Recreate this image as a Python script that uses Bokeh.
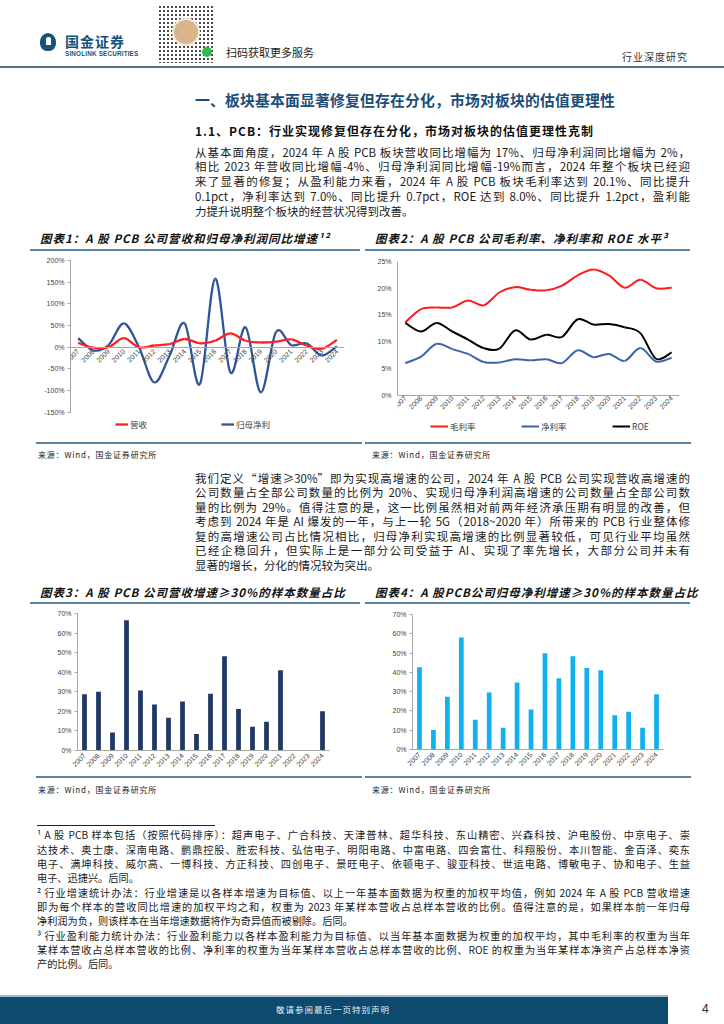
import math
from bokeh.plotting import figure
from bokeh.models import (Div, Legend, LegendItem, FixedTicker, PrintfTickFormatter,
                          Range1d, FactorRange, Spacer, ColumnDataSource)
from bokeh.layouts import column, row
from bokeh.embed import file_html
from bokeh.resources import INLINE

# ---------------- data ----------------
years = [str(y) for y in range(2007, 2025)]
rev_growth = [10, -1, 0, 21, 0, 4, 7, 19, 9, 15, 32, 15, 11, 13, 18, 4, -4, 17]
np_growth = [21, -7, 5, 55, 0, -81, -20, 55, -85, 158, -58, 46, -104, 35, 5, 9, -19, 2]
gross_margin = [13.6, 16.1, 16.4, 16.4, 17.7, 16.8, 19.2, 20.2, 19.7, 19.6, 20.5, 22.4, 23.5, 22.4, 20.1, 21.6, 20.0, 20.1]
net_margin = [6.0, 7.2, 9.6, 8.6, 7.7, 6.2, 6.1, 6.7, 6.5, 6.7, 6.0, 8.4, 7.1, 7.7, 6.4, 8.8, 6.3, 7.0]
roe = [13.5, 11.9, 13.5, 11.9, 10.4, 8.8, 8.7, 12.1, 10.4, 11.3, 10.9, 14.2, 13.2, 13.3, 12.7, 11.6, 6.8, 8.0]
rev_high_share = [28.7, 30.0, 9.2, 66.5, 30.7, 23.5, 16.7, 25.1, 8.4, 29.0, 48.1, 21.2, 12.1, 14.7, 41.0, 0, 0, 20.0]
np_high_share = [42.6, 10.1, 27.4, 58.1, 15.4, 29.5, 11.3, 34.8, 20.8, 49.9, 36.9, 48.4, 42.3, 41.1, 17.7, 19.6, 11.3, 28.6]

ticks_growth = [-150, -100, -50, 0, 50, 100, 150, 200]
ticks_margin = [0, 5, 10, 15, 20, 25]
ticks_share = [0, 10, 20, 30, 40, 50, 60, 70]

section_title = "一、板块基本面显著修复但存在分化，市场对板块的估值更理性"
sub_title = "1.1、PCB：行业实现修复但存在分化，市场对板块的估值更理性克制"
para1 = [
    "从基本面角度，2024 年 A 股 PCB 板块营收同比增幅为 17%、归母净利润同比增幅为 2%，",
    "相比 2023 年营收同比增幅-4%、归母净利润同比增幅-19%而言，2024 年整个板块已经迎",
    "来了显著的修复；从盈利能力来看，2024 年 A 股 PCB 板块毛利率达到 20.1%、同比提升",
    "0.1pct，净利率达到 7.0%、同比提升 0.7pct，ROE 达到 8.0%、同比提升 1.2pct，盈利能",
    "力提升说明整个板块的经营状况得到改善。",
]
para2 = [
    "我们定义“增速≥30%”即为实现高增速的公司，2024 年 A 股 PCB 公司实现营收高增速的",
    "公司数量占全部公司数量的比例为 20%、实现归母净利润高增速的公司数量占全部公司数",
    "量的比例为 29%。值得注意的是，这一比例虽然相对前两年经济承压期有明显的改善，但",
    "考虑到 2024 年是 AI 爆发的一年，与上一轮 5G（2018~2020 年）所带来的 PCB 行业整体修",
    "复的高增速公司占比情况相比，归母净利实现高增速的比例显著较低，可见行业平均虽然",
    "已经企稳回升，但实际上是一部分公司受益于 AI、实现了率先增长，大部分公司并未有",
    "显著的增长，分化的情况较为突出。",
]
fn1 = [
    "¹ A 股 PCB 样本包括（按照代码排序）：超声电子、广合科技、天津普林、超华科技、东山精密、兴森科技、沪电股份、中京电子、崇",
    "达技术、奥士康、深南电路、鹏鼎控股、胜宏科技、弘信电子、明阳电路、中富电路、四会富仕、科翔股份、本川智能、金百泽、奕东",
    "电子、满坤科技、威尔高、一博科技、方正科技、四创电子、景旺电子、依顿电子、骏亚科技、世运电路、博敏电子、协和电子、生益",
    "电子、迅捷兴。后同。",
]
fn2 = [
    "² 行业增速统计办法：行业增速是以各样本增速为目标值、以上一年基本面数据为权重的加权平均值，例如 2024 年 A 股 PCB 营收增速",
    "即为每个样本的营收同比增速的加权平均之和，权重为 2023 年某样本营收占总样本营收的比例。值得注意的是，如果样本前一年归母",
    "净利润为负，则该样本在当年增速数据将作为奇异值而被剔除。后同。",
]
fn3 = [
    "³ 行业盈利能力统计办法：行业盈利能力以各样本盈利能力为目标值、以当年基本面数据为权重的加权平均，其中毛利率的权重为当年",
    "某样本营收占总样本营收的比例、净利率的权重为当年某样本营收占总样本营收的比例、ROE 的权重为当年某样本净资产占总样本净资",
    "产的比例。后同。",
]
chart_titles = [
    "图表1：A 股 PCB 公司营收和归母净利润同比增速¹²",
    "图表2：A 股 PCB 公司毛利率、净利率和 ROE 水平³",
    "图表3：A 股 PCB 公司营收增速≥30%的样本数量占比",
    "图表4：A 股PCB公司归母净利增速≥30%的样本数量占比",
]
source_text = "来源：Wind，国金证券研究所"

CJK = "'Noto Sans CJK SC'"
LINE_BLUE = "#5b83a3"
W = 724


# ---------------- helpers ----------------
def smooth(xs, ys):
    """Bezier control points (Catmull-Rom) so the curve passes through every data point."""
    n = len(xs)
    d = dict(x0=[], y0=[], x1=[], y1=[], cx0=[], cy0=[], cx1=[], cy1=[])
    for i in range(n - 1):
        p0 = (xs[max(i - 1, 0)], ys[max(i - 1, 0)])
        p1 = (xs[i], ys[i])
        p2 = (xs[i + 1], ys[i + 1])
        p3 = (xs[min(i + 2, n - 1)], ys[min(i + 2, n - 1)])
        d["x0"].append(p1[0]); d["y0"].append(p1[1])
        d["x1"].append(p2[0]); d["y1"].append(p2[1])
        d["cx0"].append(p1[0] + (p2[0] - p0[0]) / 6); d["cy0"].append(p1[1] + (p2[1] - p0[1]) / 6)
        d["cx1"].append(p2[0] - (p3[0] - p1[0]) / 6); d["cy1"].append(p2[1] - (p3[1] - p1[1]) / 6)
    return ColumnDataSource(d)


def style_axes(p):
    for ax in (p.xaxis[0], p.yaxis[0]):
        ax.axis_line_color = "#a6a6a6"
        ax.major_tick_line_color = "#a6a6a6"
        ax.minor_tick_line_color = None
        ax.major_tick_in = 0
        ax.major_tick_out = 3
        ax.major_label_text_font = "Liberation Sans"
        ax.major_label_text_font_size = "7px"
        ax.major_label_text_color = "#404040"
        ax.major_label_standoff = 3
    p.xgrid.visible = False
    p.ygrid.visible = False
    p.outline_line_color = None
    p.background_fill_color = "white"
    p.border_fill_color = "white"


def make_legend(items, loc, glyph_w, label_w):
    return Legend(items=items, orientation="horizontal", location=loc,
                  label_text_font="Noto Sans CJK SC", label_text_font_size="8.5px",
                  label_text_color="#404040", glyph_width=glyph_w, glyph_height=10,
                  label_height=10, label_standoff=2, label_width=label_w, spacing=0,
                  padding=2, margin=0, border_line_color=None, background_fill_alpha=0)


def text_block(lines_groups, height, left, width, top0, step, font_size, color="#1a1a1a",
               family=CJK, extra=""):
    parts = [extra]
    i = 0
    for group in lines_groups:
        for j, ln in enumerate(group):
            last = (j == len(group) - 1)
            align = "left" if last else "justify"
            top = top0 + i * step - step / 2
            parts.append(
                f"<div style=\"position:absolute;left:{left}px;top:{top:.1f}px;width:{width}px;"
                f"line-height:{step}px;font-size:{font_size}px;text-align:{align};text-align-last:{align};"
                f"font-family:{family};color:{color};\">{ln}</div>")
            i += 1
    html = f"<div style='position:relative;width:{W}px;height:{height}px'>{''.join(parts)}</div>"
    return Div(text=html, width=W, height=height, margin=0)


def title_div(text, width, height, text_left, text_top, line_left, line_w, line_top):
    t = (f"<div style='position:relative;width:{width}px;height:{height}px'>"
         f"<div style=\"position:absolute;left:{text_left}px;top:{text_top}px;font-family:{CJK};font-size:11.5px;"
         f"font-weight:bold;font-style:italic;letter-spacing:1px;white-space:nowrap;line-height:16px;color:#111\">{text}</div>"
         f"<div style='position:absolute;left:{line_left}px;top:{line_top}px;width:{line_w}px;height:2px;background:{LINE_BLUE}'></div></div>")
    return Div(text=t, width=width, height=height, margin=0)


def source_div(width, height, text_left, text_top, line_left, line_w, line_top):
    t = (f"<div style='position:relative;width:{width}px;height:{height}px'>"
         f"<div style='position:absolute;left:{line_left}px;top:{line_top}px;width:{line_w}px;height:2px;background:{LINE_BLUE}'></div>"
         f"<div style=\"position:absolute;left:{text_left}px;top:{text_top}px;font-family:{CJK};font-size:8px;"
         f"letter-spacing:0.8px;white-space:nowrap;line-height:12px;color:#222\">{source_text}</div></div>")
    return Div(text=t, width=width, height=height, margin=0)


xs = list(range(len(years)))
year_labels = {i: y for i, y in enumerate(years)}

# ---------------- chart 1 ----------------
p1 = figure(width=332, height=188, x_range=Range1d(-0.5, 17.5), y_range=Range1d(-215, 200),
            output_backend="svg", toolbar_location=None,
            min_border_left=40, min_border_right=18, min_border_top=8, min_border_bottom=0)
style_axes(p1)
p1.xaxis.fixed_location = 0
p1.xaxis.ticker = FixedTicker(ticks=xs)
p1.xaxis.major_label_overrides = year_labels
p1.xaxis.major_label_orientation = math.pi / 4
p1.xaxis.major_tick_out = 0
p1.yaxis.bounds = (-150, 200)
p1.yaxis.ticker = FixedTicker(ticks=ticks_growth)
p1.yaxis.formatter = PrintfTickFormatter(format="%d%%")
r_np = p1.bezier(x0="x0", y0="y0", x1="x1", y1="y1", cx0="cx0", cy0="cy0", cx1="cx1", cy1="cy1",
                 source=smooth(xs, np_growth), line_color="#2f5597", line_width=2.3)
r_rev = p1.bezier(x0="x0", y0="y0", x1="x1", y1="y1", cx0="cx0", cy0="cy0", cx1="cx1", cy1="cy1",
                  source=smooth(xs, rev_growth), line_color="#ff2020", line_width=2.3)
p1.add_layout(make_legend([LegendItem(label="营收", renderers=[r_rev]),
                           LegendItem(label="归母净利", renderers=[r_np])], (45, 10), 13, 91))

# ---------------- chart 2 ----------------
p2 = figure(width=332, height=188, x_range=Range1d(-0.5, 17.5), y_range=Range1d(-8.5, 25),
            output_backend="svg", toolbar_location=None,
            min_border_left=32, min_border_right=18, min_border_top=9, min_border_bottom=0)
style_axes(p2)
p2.xaxis.fixed_location = 0
p2.xaxis.ticker = FixedTicker(ticks=xs)
p2.xaxis.major_label_overrides = year_labels
p2.xaxis.major_label_orientation = math.pi / 4
p2.xaxis.major_tick_out = 0
p2.xaxis.major_label_standoff = 2
p2.yaxis.bounds = (0, 25)
p2.yaxis.ticker = FixedTicker(ticks=ticks_margin)
p2.yaxis.formatter = PrintfTickFormatter(format="%d%%")
p2.yaxis.major_tick_out = 0
p2.yaxis.major_label_standoff = 6
r_gm = p2.bezier(x0="x0", y0="y0", x1="x1", y1="y1", cx0="cx0", cy0="cy0", cx1="cx1", cy1="cy1",
                 source=smooth(xs, gross_margin), line_color="#ff1a1a", line_width=2)
r_nm = p2.bezier(x0="x0", y0="y0", x1="x1", y1="y1", cx0="cx0", cy0="cy0", cx1="cx1", cy1="cy1",
                 source=smooth(xs, net_margin), line_color="#3b63ad", line_width=2)
r_roe = p2.bezier(x0="x0", y0="y0", x1="x1", y1="y1", cx0="cx0", cy0="cy0", cx1="cx1", cy1="cy1",
                  source=smooth(xs, roe), line_color="#000000", line_width=2)
p2.add_layout(make_legend([LegendItem(label="毛利率", renderers=[r_gm]),
                           LegendItem(label="净利率", renderers=[r_nm]),
                           LegendItem(label="ROE", renderers=[r_roe])], (33, 8), 18, 71))


# ---------------- chart 3 & 4 ----------------
def bar_chart(values, color, left, right, top, bottom):
    p = figure(width=332, height=169, x_range=FactorRange(factors=years), y_range=Range1d(0, 70),
               output_backend="svg", toolbar_location=None,
               min_border_left=left, min_border_right=right, min_border_top=top, min_border_bottom=bottom)
    style_axes(p)
    p.vbar(x=years, top=values, width=0.34, fill_color=color, line_color=None)
    p.xaxis.major_label_orientation = math.pi / 4
    p.xaxis.major_tick_out = 0
    p.xaxis.major_label_standoff = 4
    p.yaxis.ticker = FixedTicker(ticks=ticks_share)
    p.yaxis.formatter = PrintfTickFormatter(format="%d%%")
    p.yaxis.major_label_standoff = 3
    return p


p3 = bar_chart(rev_high_share, "#1f3864", 47, 33, 7, 25)
p4 = bar_chart(np_high_share, "#13b0ee", 47, 34, 8, 26)

# ---------------- page pieces ----------------
qr = ("<div style='position:absolute;left:158px;top:5px;width:56px;height:58px;"
      "background-image:radial-gradient(#4a4a4a 1px, transparent 1.4px);background-size:4px 4px;'></div>"
      "<div style='position:absolute;left:172px;top:18px;width:28px;height:28px;border-radius:50%;"
      "background:#d9b48d;border:2px solid #f4e8da'></div>"
      "<div style='position:absolute;left:202px;top:47px;width:10px;height:10px;border-radius:50%;background:#2ebd4f'></div>")
header_html = (
    f"<div style='position:relative;width:{W}px;height:70px'>"
    "<div style='position:absolute;left:40px;top:33px;width:16px;height:18px;background:#17527a;border-radius:50% 50% 42% 42%'></div>"
    "<div style='position:absolute;left:46px;top:37px;width:5px;height:8px;background:#fff;border-radius:2px 2px 0 0'></div>"
    f"<div style=\"position:absolute;left:65px;top:33px;font-family:{CJK};font-size:14px;font-weight:bold;color:#17527a;letter-spacing:1px;line-height:16px\">国金证券</div>"
    "<div style=\"position:absolute;left:65px;top:50px;font-family:'Liberation Sans';font-size:6.3px;font-weight:bold;color:#17527a;line-height:8px;letter-spacing:0.2px\">SINOLINK SECURITIES</div>"
    + qr +
    f"<div style=\"position:absolute;left:226px;top:45px;font-family:{CJK};font-size:11px;color:#222;line-height:14px\">扫码获取更多服务</div>"
    f"<div style=\"position:absolute;left:622px;top:50px;font-family:{CJK};font-size:10px;color:#333;line-height:14px;letter-spacing:1px\">行业深度研究</div>"
    f"<div style='position:absolute;left:0px;top:66px;width:{W}px;height:2px;background:#4d7291'></div>"
    "</div>")
header = Div(text=header_html, width=W, height=70, margin=0)

sec1_extra = (
    f"<div style=\"position:absolute;left:195px;top:21px;font-family:{CJK};font-size:14.8px;font-weight:bold;color:#1b4e78;line-height:18px;white-space:nowrap;letter-spacing:0.2px\">{section_title}</div>"
    f"<div style=\"position:absolute;left:195px;top:53px;font-family:{CJK};font-size:12px;font-weight:bold;color:#111;line-height:16px;letter-spacing:1px;white-space:nowrap\">{sub_title}</div>")
sec1 = text_block([para1], 156, 195, 495, 82, 14.8, 11.5, extra=sec1_extra)

sec2 = text_block([para2], 116, 195, 495, 12, 14.5, 11.5)

fn_sep = "<div style='position:absolute;left:37px;top:25px;width:178px;height:1px;background:#222'></div>"
foot = text_block([fn1, fn2, fn3], 178, 37, 653, 35.5, 14.3, 10.2, extra=fn_sep)

footer_html = (
    f"<div style='position:relative;width:{W}px;height:29px'>"
    "<div style='position:absolute;left:0px;top:0px;width:668px;height:29px;background:#0c4a6e;border-top:2px solid #9fb8ca;box-sizing:border-box'></div>"
    f"<div style=\"position:absolute;left:276px;top:8px;font-family:{CJK};font-size:8.5px;color:#e8eef3;line-height:12px;letter-spacing:1px\">敬请参阅最后一页特别声明</div>"
    "<div style=\"position:absolute;left:702px;top:7px;font-family:'Liberation Sans';font-size:12px;color:#222;line-height:14px\">4</div>"
    "</div>")
footer = Div(text=footer_html, width=W, height=29, margin=0)

t1 = title_div(chart_titles[0], 332, 26, 10, 4, 0, 330, 23)
t2 = title_div(chart_titles[1], 332, 26, 10, 4, 0, 325, 23)
s1 = source_div(332, 26, 8, 9, 6, 326, 2)
s2 = source_div(332, 26, 7, 9, 0, 326, 2)
t3 = title_div(chart_titles[2], 332, 24, 10, 2, 0, 330, 20)
t4 = title_div(chart_titles[3], 332, 24, 10, 2, 0, 325, 20)
s3 = source_div(332, 25, 8, 9, 6, 326, 1)
s4 = source_div(332, 25, 7, 9, 0, 326, 1)

top_row = row(Spacer(width=30, height=240, margin=0),
              column(t1, p1, s1, margin=0),
              Spacer(width=3, height=240, margin=0),
              column(t2, p2, s2, margin=0), margin=0)
bottom_row = row(Spacer(width=30, height=218, margin=0),
                 column(t3, p3, s3, margin=0),
                 Spacer(width=3, height=218, margin=0),
                 column(t4, p4, s4, margin=0), margin=0)

page = column(header, sec1, top_row, sec2, bottom_row, foot,
              Spacer(width=W, height=17, margin=0), footer, margin=0)

open("out.html", "w").write(file_html(page, INLINE))
